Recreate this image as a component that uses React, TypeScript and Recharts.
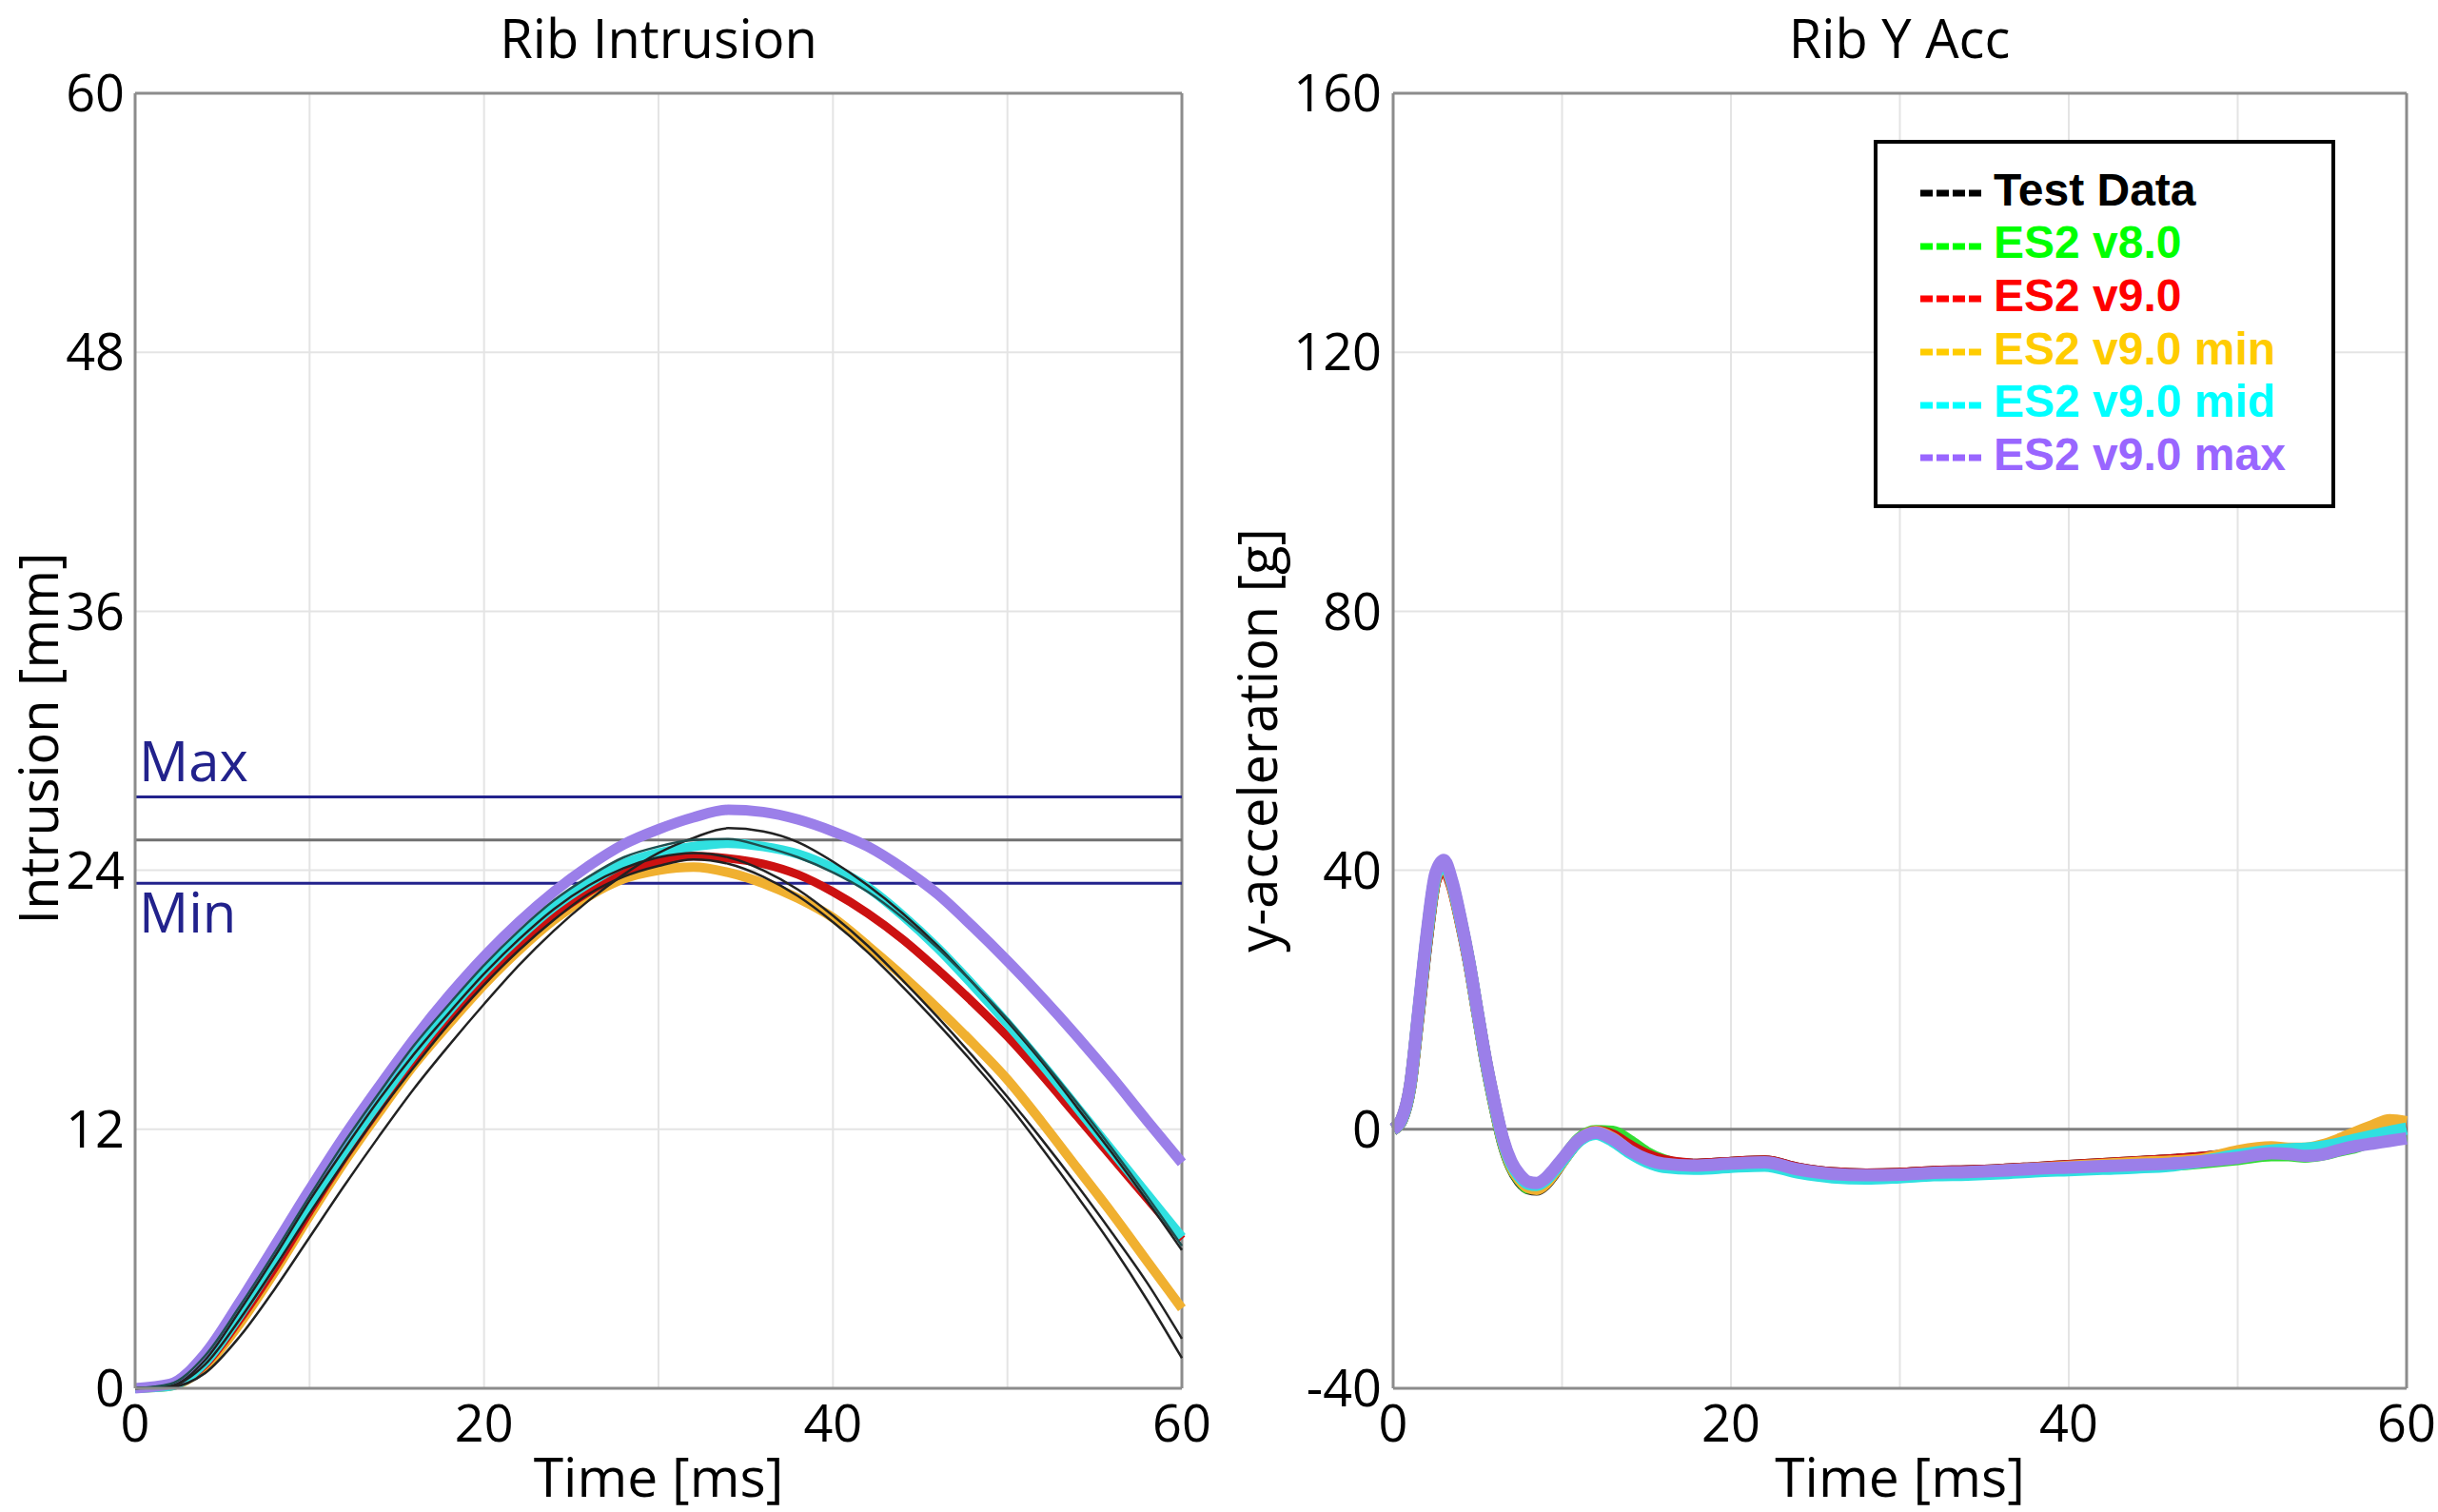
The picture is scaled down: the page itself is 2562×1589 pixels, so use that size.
import React from "react";
import { LineChart, Line, XAxis, YAxis, CartesianGrid, ReferenceLine, Legend } from "recharts";

// ---------- Rib Intrusion (left panel), time step 2 ms ----------
const intrusionTime = [0, 2, 4, 6, 8, 10, 12, 14, 16, 18, 20, 22, 24, 26, 28, 30, 32, 34, 36, 38, 40, 42, 44, 46, 48, 50, 52, 54, 56, 58, 60];

const intrusionTestA = [0, 0.05, 0.7, 2.4, 4.6, 7.0, 9.4, 11.7, 13.9, 15.9, 17.8, 19.6, 21.2, 22.6, 23.8, 24.8, 25.5, 25.95, 25.8, 25.3, 24.4, 23.3, 22.0, 20.5, 18.8, 17.0, 15.1, 13.0, 10.9, 8.7, 6.4];
const intrusionTestB = [0, 0.1, 1.3, 3.6, 6.1, 8.7, 11.1, 13.4, 15.5, 17.4, 19.2, 20.8, 22.2, 23.3, 24.1, 24.6, 24.8, 24.6, 24.0, 23.1, 21.9, 20.5, 18.9, 17.2, 15.4, 13.5, 11.5, 9.4, 7.2, 4.9, 2.3];
const intrusionTestC = [0, 0.1, 1.1, 3.2, 5.6, 8.1, 10.5, 12.8, 14.9, 16.9, 18.7, 20.3, 21.7, 22.9, 23.7, 24.2, 24.5, 24.3, 23.7, 22.8, 21.6, 20.2, 18.6, 16.9, 15.1, 13.2, 11.1, 8.9, 6.6, 4.1, 1.4];
const intrusionTestD = [0, 0.2, 1.5, 3.8, 6.3, 8.9, 11.4, 13.7, 15.9, 17.8, 19.6, 21.2, 22.6, 23.7, 24.6, 25.1, 25.4, 25.45, 25.1, 24.6, 23.9, 23.0, 21.8, 20.4, 18.8, 17.1, 15.2, 13.2, 11.1, 8.9, 6.6];
const intrusionV9 = [0, 0.1, 1.1, 3.2, 5.6, 8.2, 10.7, 13.0, 15.2, 17.1, 18.9, 20.5, 21.9, 23.0, 23.9, 24.4, 24.65, 24.55, 24.3, 23.8, 23.0, 22.0, 20.8, 19.4, 17.9, 16.3, 14.5, 12.6, 10.7, 8.8, 6.9];
const intrusionMin = [0, 0.1, 1.0, 3.0, 5.4, 8.0, 10.5, 12.8, 15.0, 16.9, 18.7, 20.3, 21.7, 22.8, 23.6, 24.0, 24.15, 23.9, 23.4, 22.7, 21.8, 20.5, 19.1, 17.6, 16.0, 14.3, 12.3, 10.2, 8.1, 5.9, 3.7];
const intrusionMid = [0, 0.1, 1.2, 3.4, 5.9, 8.5, 11.0, 13.3, 15.5, 17.5, 19.3, 20.9, 22.3, 23.4, 24.3, 24.8, 25.1, 25.25, 25.1, 24.75, 24.1, 23.2, 21.9, 20.4, 18.7, 16.9, 15.0, 13.0, 11.0, 9.0, 7.0];
const intrusionMax = [0, 0.2, 1.6, 4.0, 6.6, 9.2, 11.7, 14.0, 16.2, 18.2, 20.0, 21.6, 23.0, 24.2, 25.2, 25.9, 26.45, 26.8, 26.7, 26.35, 25.8, 25.1, 24.1, 22.9, 21.4, 19.8, 18.1, 16.3, 14.4, 12.4, 10.45];

const intrusionTicksX = [0, 10, 20, 30, 40, 50, 60];
const intrusionTicksY = [0, 12, 24, 36, 48, 60];
const corridorMax = 27.4;
const corridorMid = 25.4;
const corridorMin = 23.4;

// ---------- Rib Y Acc (right panel) ----------
const accTime = [0, 0.5, 1, 1.5, 2, 2.5, 3, 3.5, 4, 4.5, 5, 5.5, 6, 6.5, 7, 7.5, 8, 8.5, 9, 9.5, 10, 11, 12, 13, 14, 15, 16, 18, 20, 22, 24, 26, 28, 30, 32, 34, 36, 38, 40, 42, 44, 46, 48, 50, 52, 53, 54, 55, 56, 57, 58, 59, 60];

const accTest = [0, 1.4, 6.4, 17.6, 29.4, 38.6, 41.0, 37.8, 32.2, 25.7, 17.9, 10.2, 3.7, -2.0, -5.8, -8.0, -9.1, -9.3, -8.5, -6.9, -5.0, -1.7, -0.5, -1.2, -2.9, -4.3, -5.1, -5.5, -5.2, -5.0, -6.1, -6.8, -7.0, -6.9, -6.6, -6.5, -6.3, -6.0, -5.7, -5.4, -5.1, -4.8, -4.4, -3.8, -3.2, -3.3, -3.4, -3.0, -2.2, -1.2, -0.4, 0.2, 0.5];
const accV8 = [0, 1.5, 6.6, 18.1, 29.9, 39.0, 41.2, 37.9, 32.3, 25.8, 18.0, 10.3, 3.8, -1.9, -5.7, -7.8, -9.0, -9.0, -8.2, -6.6, -4.8, -1.5, -0.3, -0.4, -1.8, -3.6, -4.8, -5.8, -5.5, -5.3, -6.5, -7.2, -7.4, -7.2, -6.9, -6.8, -6.6, -6.3, -6.1, -5.9, -5.7, -5.5, -5.1, -4.6, -4.0, -4.0, -4.2, -3.9, -3.3, -2.7, -1.8, -1.2, -0.9];
const accV9 = [0, 1.5, 6.5, 17.8, 29.5, 38.5, 40.2, 37.5, 32.0, 25.6, 17.9, 10.4, 4.0, -1.6, -5.4, -7.6, -8.7, -8.8, -8.0, -6.5, -4.8, -1.7, -0.4, -1.0, -2.6, -4.0, -4.9, -5.5, -5.2, -5.0, -6.1, -6.8, -7.0, -6.9, -6.6, -6.5, -6.3, -6.0, -5.7, -5.4, -5.1, -4.8, -4.4, -3.9, -3.5, -3.5, -3.6, -3.2, -2.4, -1.4, -0.5, 0.5, 0.8];
const accMin = [0, 1.5, 6.6, 18.0, 29.8, 38.8, 41.0, 37.8, 32.2, 25.7, 17.9, 10.3, 3.9, -1.8, -5.6, -7.7, -8.9, -9.2, -8.4, -6.8, -5.0, -1.7, -0.4, -1.4, -3.4, -4.8, -5.5, -5.8, -5.4, -5.2, -6.4, -7.1, -7.3, -7.1, -6.8, -6.7, -6.4, -6.1, -5.8, -5.5, -5.2, -5.0, -4.6, -3.4, -2.8, -3.0, -3.0, -2.5, -1.6, -0.5, 0.5, 1.4, 1.1];
const accMid = [0, 1.5, 6.6, 18.2, 30.0, 39.0, 41.2, 38.0, 32.3, 25.8, 18.0, 10.4, 4.0, -1.6, -5.3, -7.3, -8.4, -8.6, -7.9, -6.5, -4.9, -1.8, -0.7, -1.8, -3.6, -5.0, -5.8, -6.1, -5.8, -5.6, -6.7, -7.4, -7.6, -7.4, -7.1, -7.0, -6.8, -6.5, -6.3, -6.1, -5.9, -5.6, -4.9, -4.0, -3.3, -3.1, -3.0, -2.7, -2.2, -1.6, -1.0, -0.4, 0.1];
const accMax = [0, 1.6, 6.8, 18.5, 30.5, 39.5, 41.6, 38.3, 32.6, 26.0, 18.2, 10.6, 4.2, -1.4, -5.0, -7.0, -8.1, -8.3, -7.6, -6.2, -4.6, -1.6, -0.5, -1.5, -3.3, -4.6, -5.3, -5.6, -5.3, -5.1, -6.2, -6.9, -7.1, -7.0, -6.7, -6.6, -6.4, -6.1, -5.9, -5.7, -5.5, -5.3, -4.9, -4.4, -3.7, -3.8, -4.1, -3.9, -3.2, -2.6, -2.2, -1.8, -1.4];

const accTicksX = [0, 10, 20, 30, 40, 50, 60];
const accTicksY = [-40, 0, 40, 80, 120, 160];

const seriesNames = ["Test Data", "ES2 v8.0", "ES2 v9.0", "ES2 v9.0 min", "ES2 v9.0 mid", "ES2 v9.0 max"];
const legendColors = ["#000000", "#00ff00", "#ff0000", "#ffcc00", "#00ffff", "#9966ff"];
const lineColors = ["#222222", "#33dd33", "#cc1111", "#f0b030", "#30e0e0", "#9b7fe9"];

const intrusionRows = intrusionTime.map((t, i) => ({
  t,
  testA: intrusionTestA[i],
  testB: intrusionTestB[i],
  testC: intrusionTestC[i],
  testD: intrusionTestD[i],
  v9: intrusionV9[i],
  min: intrusionMin[i],
  mid: intrusionMid[i],
  max: intrusionMax[i],
}));

const accRows = accTime.map((t, i) => ({
  t,
  test: accTest[i],
  v8: accV8[i],
  v9: accV9[i],
  min: accMin[i],
  mid: accMid[i],
  max: accMax[i],
}));

const FONT = "'Open Sans', 'Noto Sans', sans-serif";
const FRAME = "#8c8c8c";
const GRID = "#e4e4e4";
const NAVY = "#22228c";

const tickStyle = { fill: "#000", fontSize: 54, fontFamily: FONT };
const labelEvery20 = (v: number) => (v % 20 === 0 ? String(v) : "");

// eslint-disable-next-line @typescript-eslint/no-explicit-any
function CorridorLabel({ viewBox, text, dy }: any) {
  if (!viewBox) return null;
  return (
    <text x={viewBox.x + 4} y={viewBox.y + dy} fill={NAVY} fontSize={58} fontFamily={FONT}>
      {text}
    </text>
  );
}

// eslint-disable-next-line @typescript-eslint/no-explicit-any
function LegendBox({ payload }: any) {
  if (!payload) return null;
  // keep the legend in series order (recharts sorts it by name otherwise)
  // eslint-disable-next-line @typescript-eslint/no-explicit-any
  const items = [...payload].sort((a: any, b: any) => seriesNames.indexOf(a.value) - seriesNames.indexOf(b.value));
  return (
    <div
      style={{
        width: 485,
        height: 387,
        boxSizing: "border-box",
        border: "4px solid #000",
        background: "#fff",
        padding: "20.5px 0 0 45px",
      }}
    >
      {/* eslint-disable-next-line @typescript-eslint/no-explicit-any */}
      {items.map((entry: any) => {
        const idx = seriesNames.indexOf(entry.value);
        const color = legendColors[idx] ?? entry.color;
        return (
          <div key={entry.value} style={{ position: "relative", height: 55.7, lineHeight: "55.7px", whiteSpace: "nowrap" }}>
            <svg width={64} height={8} style={{ position: "absolute", left: 0, top: 27.5 }}>
              <line x1={0} y1={4} x2={64} y2={4} stroke={color} strokeWidth={7} strokeDasharray="13 4" />
            </svg>
            <span
              style={{
                marginLeft: 77,
                color,
                fontWeight: 700,
                fontSize: 48,
                fontFamily: "'Liberation Sans', Arial, sans-serif",
              }}
            >
              {entry.value}
            </span>
          </div>
        );
      })}
    </div>
  );
}

function Title({ text, cx }: { text: string; cx: number }) {
  return (
    <div
      style={{
        position: "absolute",
        left: cx,
        top: 11,
        transform: "translateX(-50%)",
        fontFamily: FONT,
        fontSize: 56,
        lineHeight: 1,
        whiteSpace: "nowrap",
        color: "#000",
      }}
    >
      {text}
    </div>
  );
}

function YTitle({ text, cx, cy }: { text: string; cx: number; cy: number }) {
  return (
    <div
      style={{
        position: "absolute",
        left: cx,
        top: cy,
        transform: "translate(-50%, -50%) rotate(-90deg)",
        fontFamily: FONT,
        fontSize: 56,
        lineHeight: 1,
        whiteSpace: "nowrap",
        color: "#000",
      }}
    >
      {text}
    </div>
  );
}

export default function App() {
  return (
    <div style={{ position: "absolute", left: 0, top: 0, width: 2562, height: 1589, background: "#fff", overflow: "hidden" }}>
      <Title text="Rib Intrusion" cx={692} />
      <Title text="Rib Y Acc" cx={1996} />
      <YTitle text="Intrusion [mm]" cx={39} cy={776} />
      <YTitle text="y-acceleration [g]" cx={1320} cy={778} />

      {/* Left panel */}
      <div style={{ position: "absolute", left: 0, top: 0 }}>
        <LineChart width={1290} height={1589} data={intrusionRows} margin={{ top: 98, right: 48, bottom: 0, left: 42 }}>
          <CartesianGrid stroke={GRID} strokeWidth={2} />
          <XAxis
            dataKey="t"
            type="number"
            domain={[0, 60]}
            ticks={intrusionTicksX}
            interval={0}
            tickFormatter={labelEvery20}
            tick={tickStyle}
            tickLine={false}
            tickSize={0}
            tickMargin={18}
            height={130}
            axisLine={{ stroke: FRAME, strokeWidth: 3 }}
            label={{ value: "Time [ms]", position: "insideBottom", offset: 16, fill: "#000", fontSize: 57, fontFamily: FONT }}
          />
          <YAxis
            type="number"
            domain={[0, 60]}
            ticks={intrusionTicksY}
            interval={0}
            tick={tickStyle}
            tickLine={false}
            tickSize={0}
            tickMargin={11}
            width={100}
            axisLine={{ stroke: FRAME, strokeWidth: 3 }}
          />
          <ReferenceLine x={60} stroke={FRAME} strokeWidth={3} />
          <ReferenceLine y={60} stroke={FRAME} strokeWidth={3} />
          <ReferenceLine y={corridorMax} stroke={NAVY} strokeWidth={3} label={<CorridorLabel text="Max" dy={-16} />} />
          <ReferenceLine y={corridorMid} stroke="#707070" strokeWidth={3} />
          <ReferenceLine y={corridorMin} stroke={NAVY} strokeWidth={3} label={<CorridorLabel text="Min" dy={52} />} />

          <Line dataKey="min" type="monotone" stroke={lineColors[3]} strokeWidth={10} dot={false} isAnimationActive={false} />
          <Line dataKey="v9" type="monotone" stroke={lineColors[2]} strokeWidth={9} dot={false} isAnimationActive={false} />
          <Line dataKey="mid" type="monotone" stroke={lineColors[4]} strokeWidth={10} dot={false} isAnimationActive={false} />
          <Line dataKey="max" type="monotone" stroke={lineColors[5]} strokeWidth={11} dot={false} isAnimationActive={false} />
          <Line dataKey="testA" type="monotone" stroke={lineColors[0]} strokeWidth={2.5} dot={false} isAnimationActive={false} />
          <Line dataKey="testB" type="monotone" stroke={lineColors[0]} strokeWidth={2.5} dot={false} isAnimationActive={false} />
          <Line dataKey="testC" type="monotone" stroke={lineColors[0]} strokeWidth={2.5} dot={false} isAnimationActive={false} />
          <Line dataKey="testD" type="monotone" stroke="#1f4f4f" strokeWidth={2.5} dot={false} isAnimationActive={false} />
        </LineChart>
      </div>

      {/* Right panel */}
      <div style={{ position: "absolute", left: 1300, top: 0 }}>
        <LineChart width={1262} height={1589} data={accRows} margin={{ top: 98, right: 33, bottom: 0, left: 54 }}>
          <CartesianGrid stroke={GRID} strokeWidth={2} />
          <XAxis
            dataKey="t"
            type="number"
            domain={[0, 60]}
            ticks={accTicksX}
            interval={0}
            tickFormatter={labelEvery20}
            tick={tickStyle}
            tickLine={false}
            tickSize={0}
            tickMargin={18}
            height={130}
            axisLine={{ stroke: FRAME, strokeWidth: 3 }}
            label={{ value: "Time [ms]", position: "insideBottom", offset: 16, fill: "#000", fontSize: 57, fontFamily: FONT }}
          />
          <YAxis
            type="number"
            domain={[-40, 160]}
            ticks={accTicksY}
            interval={0}
            tick={tickStyle}
            tickLine={false}
            tickSize={0}
            tickMargin={12}
            width={110}
            axisLine={{ stroke: FRAME, strokeWidth: 3 }}
          />
          <ReferenceLine x={60} stroke={FRAME} strokeWidth={3} />
          <ReferenceLine y={160} stroke={FRAME} strokeWidth={3} />
          <ReferenceLine y={0} stroke="#808080" strokeWidth={3} />

          <Line dataKey="test" name={seriesNames[0]} type="monotone" stroke={lineColors[0]} strokeWidth={13} dot={false} isAnimationActive={false} />
          <Line dataKey="v8" name={seriesNames[1]} type="monotone" stroke={lineColors[1]} strokeWidth={13} dot={false} isAnimationActive={false} />
          <Line dataKey="v9" name={seriesNames[2]} type="monotone" stroke={lineColors[2]} strokeWidth={13} dot={false} isAnimationActive={false} />
          <Line dataKey="min" name={seriesNames[3]} type="monotone" stroke={lineColors[3]} strokeWidth={13} dot={false} isAnimationActive={false} />
          <Line dataKey="mid" name={seriesNames[4]} type="monotone" stroke={lineColors[4]} strokeWidth={13} dot={false} isAnimationActive={false} />
          <Line dataKey="max" name={seriesNames[5]} type="monotone" stroke={lineColors[5]} strokeWidth={13} dot={false} isAnimationActive={false} />

          <Legend
            layout="horizontal"
            verticalAlign="middle"
            align="center"
            content={<LegendBox />}
            wrapperStyle={{ left: 669, top: 147, width: 485, height: 387 }}
          />
        </LineChart>
      </div>
    </div>
  );
}
